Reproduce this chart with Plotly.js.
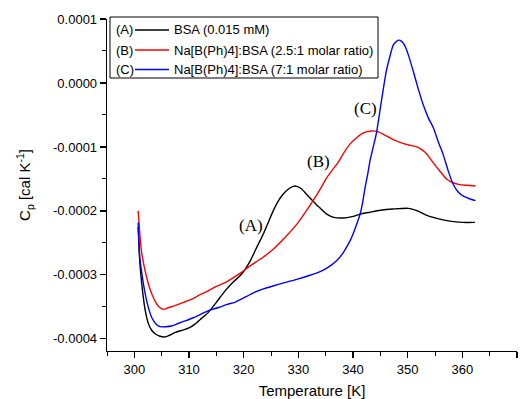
<!DOCTYPE html>
<html>
<head>
<meta charset="utf-8">
<script src="https://cdn.plot.ly/plotly-3.0.1.min.js"></script>
<style>html,body{margin:0;padding:0;background:#fff;}#chart{width:527px;height:399px;}</style>
</head>
<body>
<div id="chart"></div>
<script>
// ---- data (Temperature in K, Cp in cal/K) ----
const tempA = [300.7, 301.0, 301.5, 302.0, 302.6, 303.2, 303.8, 304.7, 305.6, 306.5, 307.5, 309.0, 310.0, 311.1, 312.3, 313.5, 315.0, 316.6, 318.0, 319.6, 321.2, 322.5, 323.6, 324.5, 325.4, 326.3, 327.2, 328.3, 329.4, 330.5, 331.5, 332.5, 333.4, 334.3, 335.2, 336.5, 338.2, 339.8, 341.3, 343.1, 345.0, 347.4, 350.1, 351.8, 353.5, 355.5, 357.7, 360.0, 362.3];
const cpA = [-2.25e-4, -2.8e-4, -3.25e-4, -3.56e-4, -3.77e-4, -3.87e-4, -3.92e-4, -3.96e-4, -3.97e-4, -3.94e-4, -3.90e-4, -3.86e-4, -3.83e-4, -3.77e-4, -3.68e-4, -3.59e-4, -3.43e-4, -3.25e-4, -3.12e-4, -2.99e-4, -2.78e-4, -2.55e-4, -2.36e-4, -2.18e-4, -2.0e-4, -1.85e-4, -1.74e-4, -1.65e-4, -1.61e-4, -1.65e-4, -1.74e-4, -1.83e-4, -1.91e-4, -1.98e-4, -2.05e-4, -2.10e-4, -2.11e-4, -2.09e-4, -2.05e-4, -2.02e-4, -1.99e-4, -1.97e-4, -1.96e-4, -2.0e-4, -2.07e-4, -2.12e-4, -2.16e-4, -2.18e-4, -2.18e-4];

const tempB = [300.7, 301.0, 301.3, 302.0, 302.6, 303.2, 303.8, 304.5, 305.3, 306.3, 307.4, 309.0, 310.5, 312.0, 313.5, 315.0, 316.6, 318.0, 319.6, 321.2, 323.3, 325.4, 327.5, 329.7, 331.2, 332.7, 334.0, 335.2, 336.4, 337.3, 338.4, 339.4, 340.6, 341.9, 343.4, 344.5, 345.5, 347.0, 348.6, 350.2, 351.7, 352.7, 353.5, 354.7, 355.9, 357.1, 358.3, 359.5, 360.8, 362.4];
const cpB = [-2.0e-4, -2.35e-4, -2.63e-4, -2.95e-4, -3.15e-4, -3.30e-4, -3.41e-4, -3.50e-4, -3.54e-4, -3.51e-4, -3.48e-4, -3.43e-4, -3.38e-4, -3.31e-4, -3.25e-4, -3.18e-4, -3.12e-4, -3.05e-4, -2.96e-4, -2.86e-4, -2.74e-4, -2.6e-4, -2.42e-4, -2.21e-4, -2.03e-4, -1.84e-4, -1.66e-4, -1.48e-4, -1.34e-4, -1.24e-4, -1.08e-4, -0.96e-4, -0.86e-4, -0.78e-4, -0.75e-4, -0.76e-4, -0.80e-4, -0.87e-4, -0.93e-4, -0.97e-4, -1.0e-4, -1.05e-4, -1.11e-4, -1.25e-4, -1.38e-4, -1.5e-4, -1.56e-4, -1.59e-4, -1.6e-4, -1.61e-4];

const tempC = [300.7, 301.0, 301.5, 302.0, 302.6, 303.2, 304.0, 304.7, 305.7, 306.8, 308.0, 309.3, 310.8, 312.3, 313.8, 315.4, 317.0, 318.4, 320.0, 321.8, 323.6, 325.5, 327.5, 329.7, 332.0, 334.0, 335.5, 337.0, 338.0, 338.8, 339.5, 340.1, 340.7, 341.3, 341.8, 342.2, 342.7, 343.1, 343.7, 344.3, 345.2, 346.1, 346.8, 347.4, 348.3, 348.9, 349.5, 350.2, 351.0, 351.9, 352.8, 353.8, 354.7, 355.6, 356.5, 357.4, 358.3, 359.2, 360.2, 361.3, 362.4];
const cpC = [-2.18e-4, -2.73e-4, -3.05e-4, -3.3e-4, -3.52e-4, -3.67e-4, -3.77e-4, -3.81e-4, -3.81e-4, -3.80e-4, -3.76e-4, -3.72e-4, -3.67e-4, -3.61e-4, -3.55e-4, -3.51e-4, -3.46e-4, -3.43e-4, -3.36e-4, -3.28e-4, -3.22e-4, -3.17e-4, -3.12e-4, -3.07e-4, -3.01e-4, -2.95e-4, -2.88e-4, -2.78e-4, -2.68e-4, -2.57e-4, -2.46e-4, -2.34e-4, -2.2e-4, -2.05e-4, -1.85e-4, -1.64e-4, -1.42e-4, -1.22e-4, -1.0e-4, -0.78e-4, -0.28e-4, 0.19e-4, 0.43e-4, 0.60e-4, 0.67e-4, 0.65e-4, 0.58e-4, 0.42e-4, 0.19e-4, -0.08e-4, -0.33e-4, -0.55e-4, -0.70e-4, -0.92e-4, -1.12e-4, -1.37e-4, -1.58e-4, -1.70e-4, -1.77e-4, -1.81e-4, -1.84e-4];

const seriesTags = ['(A)', '(B)', '(C)'];
const legendLabels = ['BSA (0.015 mM)', 'Na[B(Ph)4]:BSA (2.5:1 molar ratio)', 'Na[B(Ph)4]:BSA (7:1 molar ratio)'];
const seriesColors = ['#000000', '#ff0000', '#0000ff'];
// curve label anchors (data coordinates)
const tagX = [321.25, 333.6, 342.3];
const tagY = [-2.23e-4, -1.22e-4, -0.40e-4];

const yTickVals = [-0.0004, -0.0003, -0.0002, -0.0001, 0, 0.0001];
const yTickText = ['-0.0004', '-0.0003', '-0.0002', '-0.0001', '0.0000', '0.0001'];

// ---- layout geometry ----
const ML = 107, MT = 19, PW = 410, PH = 332;
function px(x){ return (x - ML) / PW; }
function py(y){ return (MT + PH - y) / PH; }

const SANS = 'Liberation Sans, Arial, sans-serif';
const SERIF = 'Liberation Serif, Times New Roman, serif';

const xs = [tempA, tempB, tempC];
const ys = [cpA, cpB, cpC];
const traces = xs.map((x, i) => ({
  x: x, y: ys[i], type: 'scatter', mode: 'lines',
  line: {color: seriesColors[i], width: 1.4, shape: 'spline', smoothing: 0.6},
  showlegend: false, hoverinfo: 'skip'
}));

const shapes = [{
  type: 'rect', xref: 'paper', yref: 'paper',
  x0: px(110), x1: px(378), y0: py(78), y1: py(17),
  line: {color: '#000', width: 1}, fillcolor: 'rgba(255,255,255,0)'
}];
const annotations = [];
const rowY = [30, 50, 69.5];
for (let i = 0; i < 3; i++) {
  shapes.push({type: 'line', xref: 'paper', yref: 'paper',
    x0: px(135), x1: px(169), y0: py(rowY[i]), y1: py(rowY[i]),
    line: {color: seriesColors[i], width: 1.4}});
  annotations.push({xref: 'paper', yref: 'paper', x: px(114), y: py(rowY[i]),
    xanchor: 'left', yanchor: 'middle', showarrow: false, text: seriesTags[i],
    font: {family: SANS, size: 13, color: '#000'}});
  annotations.push({xref: 'paper', yref: 'paper', x: px(172), y: py(rowY[i]),
    xanchor: 'left', yanchor: 'middle', showarrow: false, text: legendLabels[i],
    font: {family: SANS, size: 13, color: '#000'}});
  annotations.push({xref: 'x', yref: 'y', x: tagX[i], y: tagY[i],
    xanchor: 'center', yanchor: 'middle', showarrow: false, text: seriesTags[i],
    font: {family: SERIF, size: 17, color: '#000'}});
}

const layout = {
  width: 527, height: 399,
  margin: {l: ML, r: 527 - ML - PW, t: MT, b: 399 - MT - PH},
  paper_bgcolor: '#fff', plot_bgcolor: '#fff',
  font: {family: SANS, size: 13, color: '#000'},
  showlegend: false,
  xaxis: {
    range: [295, 370.0001], tick0: 300, dtick: 10,
    showgrid: false, zeroline: false,
    showline: true, linecolor: '#000', linewidth: 1.3,
    ticks: 'outside', ticklen: 6, tickwidth: 1.2, tickcolor: '#000',
    tickfont: {family: SANS, size: 13, color: '#000'},
    minor: {ticks: 'outside', ticklen: 4, tickwidth: 1, tickcolor: '#000', dtick: 5, tick0: 295, showgrid: false},
    title: {text: 'Temperature [K]', font: {family: SANS, size: 15, color: '#000'}, standoff: 12}
  },
  yaxis: {
    range: [-0.000419, 0.00010001],
    tickmode: 'array', tickvals: yTickVals, ticktext: yTickText,
    showgrid: false, zeroline: false,
    showline: true, linecolor: '#000', linewidth: 1.3,
    ticks: 'outside', ticklen: 6, tickwidth: 1.2, tickcolor: '#000',
    tickfont: {family: SANS, size: 13, color: '#000'},
    minor: {ticks: 'outside', ticklen: 4, tickwidth: 1, tickcolor: '#000', tickmode: 'linear', dtick: 0.00005, tick0: 0, showgrid: false},
    title: {text: 'C<sub>p</sub> [cal K<sup>-1</sup>]', font: {family: SANS, size: 15, color: '#000'}, standoff: 18}
  },
  shapes: shapes,
  annotations: annotations
};

Plotly.newPlot('chart', traces, layout, {displayModeBar: false, staticPlot: true});
</script>
</body>
</html>
